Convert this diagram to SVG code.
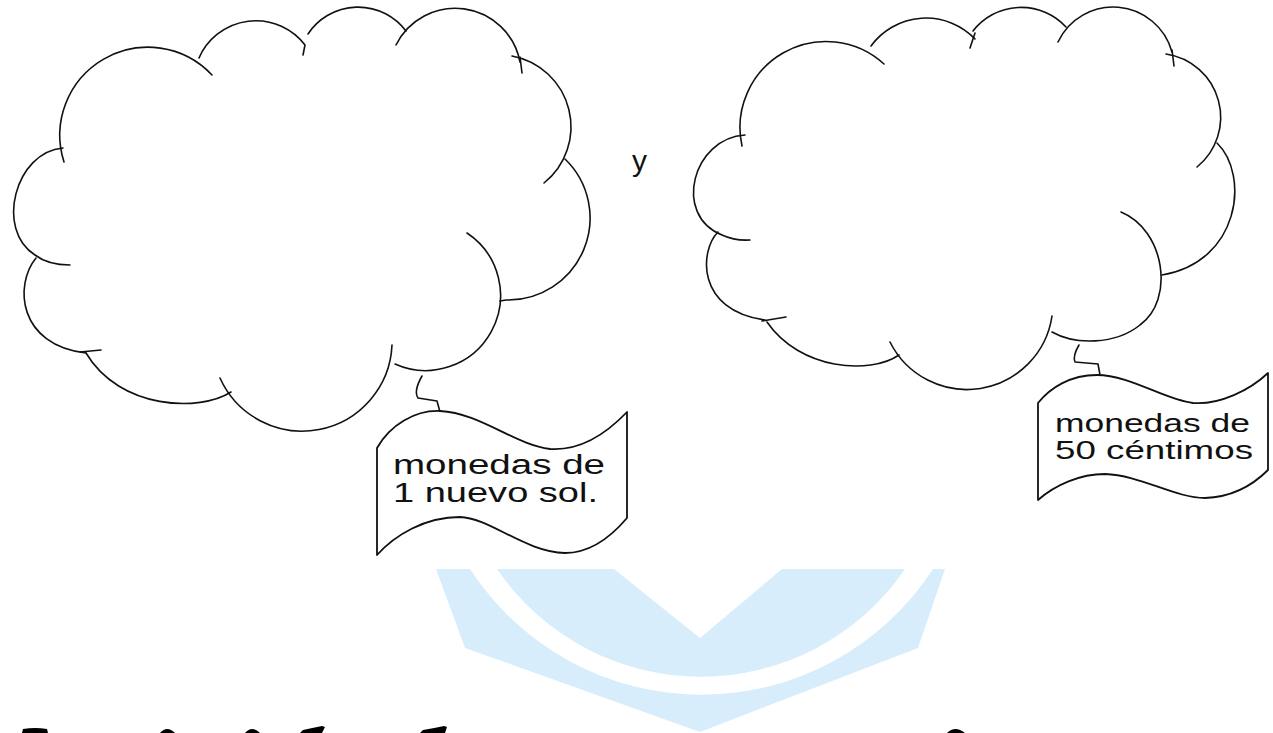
<svg xmlns="http://www.w3.org/2000/svg" width="1273" height="733" viewBox="0 0 1273 733">
<style>
.ln{fill:none;stroke:#111;stroke-width:1.6;stroke-linecap:round;stroke-linejoin:round}
.bn{fill:#fff;stroke:#111;stroke-width:1.8;stroke-linejoin:round}
.tx{font-family:"Liberation Sans",Arial,sans-serif;fill:#111}
.wm{fill:#d7edfc}
.frag{fill:#000}
</style>
<rect width="1273" height="733" fill="#fff"/>
<g id="watermark">
<polygon class="wm" points="436,569 945,569 918,648 700,732 465,648"/>
<polygon fill="#fff" points="614,569 700,638 782,569"/>
<path fill="#fff" d="M470,569 A276,276 0 0 0 933,569 L905,569 A247,247 0 0 1 497,569 Z"/>
</g>
<g id="cloud-left">
<path class="ln" d="M64,162 A88,88 0 0 1 212,75"/>
<path class="ln" d="M199,58 A62,62 0 0 1 305,45 L303,55"/>
<path class="ln" d="M308,34 A60,60 0 0 1 406,31"/>
<path class="ln" d="M396,45 A66,66 0 0 1 520,62"/>
<path class="ln" d="M520,57 L522,73"/>
<path class="ln" d="M512,56 A72,72 0 0 1 544,183"/>
<path class="ln" d="M565,159 A82,82 0 0 1 506,300 L500,301"/>
<path class="ln" d="M467,233 A75,75 0 0 1 395,364"/>
<path class="ln" d="M392,345 A90,90 0 0 1 220,378"/>
<path class="ln" d="M231,392 C200,412 120,410 86,353"/>
<path class="ln" d="M80,352 L101,350"/>
<path class="ln" d="M36,258 C14,285 18,345 86,353"/>
<path class="ln" d="M63,148 C15,152 -5,230 35,255 Q48,265 70,265"/>
</g>
<g id="banner-left">
<path class="ln" d="M422,376 C418,383 414,392 418,398 L437,401 L440,412"/>
<path class="bn" d="M377,448 C390,425 415,410 440,411 C480,413 515,445 550,449 C580,451 605,435 627,412 L627,518 C610,538 590,553 565,553 C525,552 490,518 460,517 C425,517 395,535 377,555 Z"/>
<text class="tx" x="393" y="474" font-size="27" textLength="212" lengthAdjust="spacingAndGlyphs">monedas de</text>
<text class="tx" x="393" y="502" font-size="27" textLength="205" lengthAdjust="spacingAndGlyphs">1 nuevo sol.</text>
</g>
<g id="conjunction">
<text class="tx" x="632" y="171" font-size="30">y</text>
</g>
<g id="cloud-right">
<path class="ln" d="M742,146 A86,86 0 0 1 884,64"/>
<path class="ln" d="M871,46 A68,68 0 0 1 975,39"/>
<path class="ln" d="M975,33 L970,48"/>
<path class="ln" d="M973,31 A61,61 0 0 1 1066,27"/>
<path class="ln" d="M1058,42 A61,61 0 0 1 1172,52"/>
<path class="ln" d="M1172,50 L1174,66"/>
<path class="ln" d="M1166,54 A64,64 0 0 1 1197,167"/>
<path class="ln" d="M1217,143 C1250,175 1240,262 1162,275"/>
<path class="ln" d="M1121,212 C1165,230 1175,300 1140,325 C1115,345 1075,345 1052,332"/>
<path class="ln" d="M1052,316 A86,86 0 0 1 890,342"/>
<path class="ln" d="M899,355 C870,375 800,370 767,322"/>
<path class="ln" d="M762,321 L786,317"/>
<path class="ln" d="M718,232 C700,250 695,310 765,320"/>
<path class="ln" d="M745,135 C693,138 672,215 722,235 Q735,241 750,240"/>
</g>
<g id="banner-right">
<path class="ln" d="M1079,345 C1076,350 1073,357 1075,362 L1098,364 L1100,375"/>
<path class="bn" d="M1038,403 C1050,388 1070,375 1097,375 C1130,375 1165,400 1193,403 C1220,405 1250,390 1268,373 L1268,470 C1255,483 1235,497 1205,498 C1175,498 1140,475 1105,474 C1080,474 1055,485 1038,500 Z"/>
<text class="tx" x="1055" y="432" font-size="26" textLength="195" lengthAdjust="spacingAndGlyphs">monedas de</text>
<text class="tx" x="1055" y="459" font-size="26" textLength="198" lengthAdjust="spacingAndGlyphs">50 céntimos</text>
</g>
<g id="edge-fragments">
<path class="frag" d="M22,733 L23,729 Q35,727 47,729 L48,733 Z"/>
<path class="frag" d="M160,733 Q167,725 175,733 Z"/>
<path class="frag" d="M245,733 Q252,725 260,733 Z"/>
<path class="frag" d="M300,733 L303,730 Q312,728 322,726 L325,727 L322,733 Z"/>
<path class="frag" d="M420,733 L423,730 Q435,728 444,726 L447,727 L445,733 Z"/>
<path class="frag" d="M947,733 Q955,725 965,733 Z"/>
</g>
</svg>
